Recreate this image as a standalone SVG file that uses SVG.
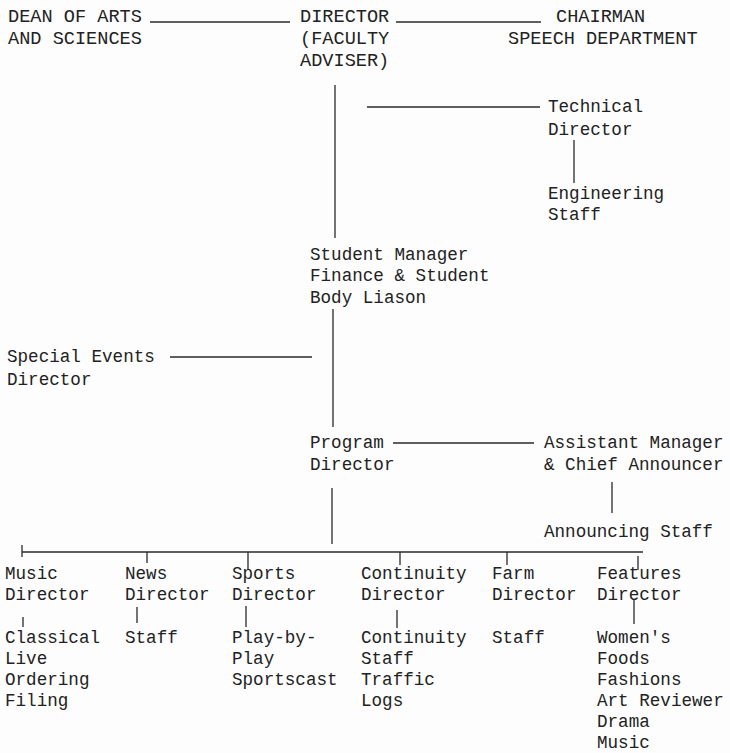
<svg xmlns="http://www.w3.org/2000/svg" width="730" height="753" viewBox="0 0 730 753">
<style>
text{font-family:"Liberation Mono","DejaVu Sans Mono",monospace;fill:#222;}
.lc{font-size:17.6px;}
.uc{font-size:18.6px;}
.c line{stroke:#2a2a2a;stroke-width:1.3;}
</style>
<rect width="730" height="753" fill="#fdfdfd"/>
<g class="c" id="connectors">
<line x1="150" y1="22" x2="290" y2="22"/>
<line x1="396" y1="22" x2="541" y2="22"/>
<line x1="335" y1="85" x2="335" y2="238"/>
<line x1="367" y1="107" x2="540" y2="107"/>
<line x1="574" y1="140" x2="574" y2="183"/>
<line x1="333" y1="309" x2="333" y2="427"/>
<line x1="170" y1="357" x2="312" y2="357"/>
<line x1="393" y1="443" x2="534" y2="443"/>
<line x1="612" y1="482" x2="612" y2="513"/>
<line x1="332" y1="488" x2="332" y2="544"/>
<line x1="22" y1="552" x2="643" y2="552"/>
<line x1="22" y1="545" x2="22" y2="557"/>
<line x1="147" y1="552" x2="147" y2="563"/>
<line x1="248" y1="552" x2="248" y2="570"/>
<line x1="400" y1="552" x2="400" y2="565"/>
<line x1="507" y1="552" x2="507" y2="565"/>
<line x1="638" y1="556" x2="638" y2="570"/>
<line x1="23" y1="617" x2="23" y2="627"/>
<line x1="137" y1="607" x2="137" y2="623"/>
<line x1="246" y1="606" x2="246" y2="627"/>
<line x1="397" y1="610" x2="397" y2="628"/>
<line x1="634" y1="600" x2="634" y2="624"/>
</g>
<g id="dean"><text class="uc" x="8" y="22">DEAN OF ARTS</text><text class="uc" x="8" y="44">AND SCIENCES</text></g>
<g id="director"><text class="uc" x="300" y="22">DIRECTOR</text><text class="uc" x="300" y="44">(FACULTY</text><text class="uc" x="300" y="66">ADVISER)</text></g>
<g id="chairman"><text class="uc" x="556" y="22">CHAIRMAN</text><text class="uc" x="508" y="44">SPEECH DEPARTMENT</text></g>
<g id="technical-director"><text class="lc" x="548" y="112">Technical</text><text class="lc" x="548" y="135">Director</text></g>
<g id="engineering-staff"><text class="lc" x="548" y="199">Engineering</text><text class="lc" x="548" y="220">Staff</text></g>
<g id="student-manager"><text class="lc" x="310" y="260">Student Manager</text><text class="lc" x="310" y="281">Finance &amp; Student</text><text class="lc" x="310" y="303">Body Liason</text></g>
<g id="special-events"><text class="lc" x="7" y="362">Special Events</text><text class="lc" x="7" y="385">Director</text></g>
<g id="program-director"><text class="lc" x="310" y="448">Program</text><text class="lc" x="310" y="470">Director</text></g>
<g id="assistant-manager"><text class="lc" x="544" y="448">Assistant Manager</text><text class="lc" x="544" y="470">&amp; Chief Announcer</text></g>
<g id="announcing-staff"><text class="lc" x="544" y="537">Announcing Staff</text></g>
<g id="music-director"><text class="lc" x="5" y="579">Music</text><text class="lc" x="5" y="600">Director</text></g>
<g id="music-staff"><text class="lc" x="5" y="643">Classical</text><text class="lc" x="5" y="664">Live</text><text class="lc" x="5" y="685">Ordering</text><text class="lc" x="5" y="706">Filing</text></g>
<g id="news-director"><text class="lc" x="125" y="579">News</text><text class="lc" x="125" y="600">Director</text></g>
<g id="news-staff"><text class="lc" x="125" y="643">Staff</text></g>
<g id="sports-director"><text class="lc" x="232" y="579">Sports</text><text class="lc" x="232" y="600">Director</text></g>
<g id="sports-staff"><text class="lc" x="232" y="643">Play-by-</text><text class="lc" x="232" y="664">Play</text><text class="lc" x="232" y="685">Sportscast</text></g>
<g id="continuity-director"><text class="lc" x="361" y="579">Continuity</text><text class="lc" x="361" y="600">Director</text></g>
<g id="continuity-staff"><text class="lc" x="361" y="643">Continuity</text><text class="lc" x="361" y="664">Staff</text><text class="lc" x="361" y="685">Traffic</text><text class="lc" x="361" y="706">Logs</text></g>
<g id="farm-director"><text class="lc" x="492" y="579">Farm</text><text class="lc" x="492" y="600">Director</text></g>
<g id="farm-staff"><text class="lc" x="492" y="643">Staff</text></g>
<g id="features-director"><text class="lc" x="597" y="579">Features</text><text class="lc" x="597" y="600">Director</text></g>
<g id="features-staff"><text class="lc" x="597" y="643">Women's</text><text class="lc" x="597" y="664">Foods</text><text class="lc" x="597" y="685">Fashions</text><text class="lc" x="597" y="706">Art Reviewer</text><text class="lc" x="597" y="727">Drama</text><text class="lc" x="597" y="748">Music</text></g>
</svg>
